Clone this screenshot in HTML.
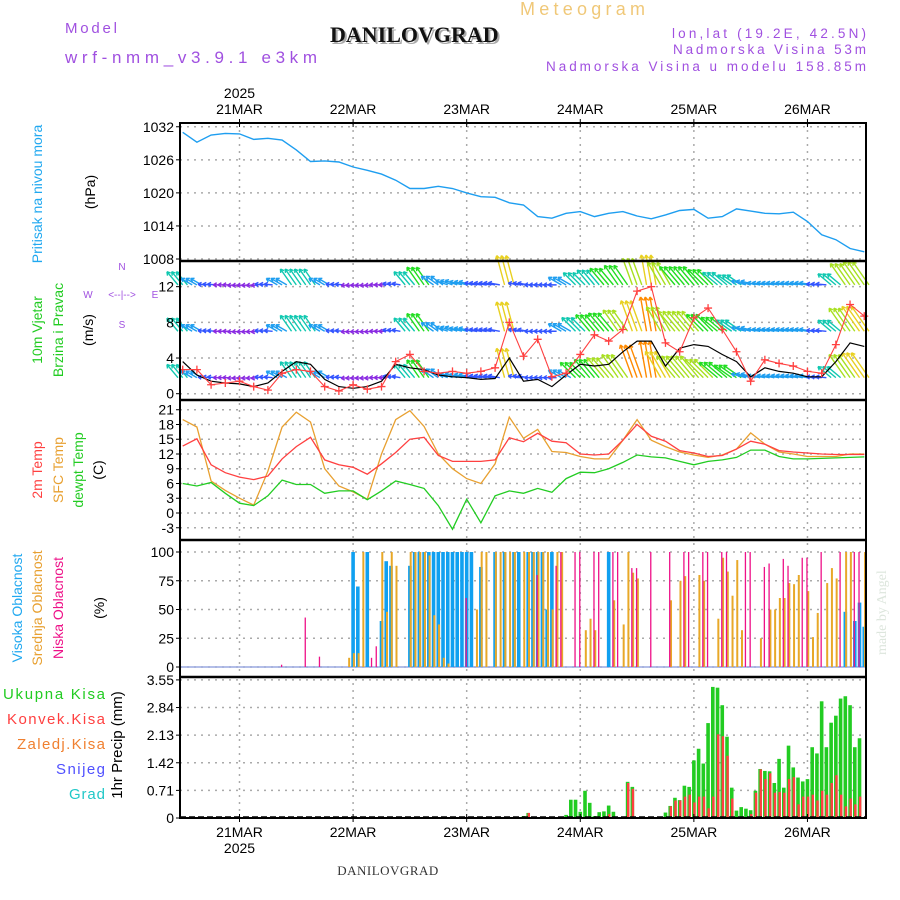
<!DOCTYPE html>
<html><head><meta charset="utf-8"><style>
body{margin:0;background:#fff;}
svg{display:block;font-family:"Liberation Sans",sans-serif;}
</style></head><body>
<svg id="chart" width="900" height="900" viewBox="0 0 900 900" xmlns="http://www.w3.org/2000/svg">
<rect width="900" height="900" fill="#fff"/>
<text x="520" y="15" font-size="18" fill="#f0c878" textLength="125" lengthAdjust="spacing">Meteogram</text>
<text x="65" y="33" font-size="15" fill="#a050e0" textLength="52" lengthAdjust="spacing">Model</text>
<text x="332" y="44" font-size="22" font-weight="bold" fill="#aaa" font-family="Liberation Serif,serif">DANILOVGRAD</text>
<text x="330" y="42" font-size="22" font-weight="bold" fill="#111" font-family="Liberation Serif,serif">DANILOVGRAD</text>
<text x="65" y="63" font-size="17" fill="#a050e0" textLength="252" lengthAdjust="spacing">wrf-nmm_v3.9.1 e3km</text>
<text x="672" y="38" font-size="13.5" fill="#a050e0" textLength="194" lengthAdjust="spacing">lon,lat (19.2E, 42.5N)</text>
<text x="673" y="54" font-size="13.5" fill="#a050e0" textLength="193" lengthAdjust="spacing">Nadmorska Visina 53m</text>
<text x="546" y="71" font-size="13.5" fill="#a050e0" textLength="320" lengthAdjust="spacing">Nadmorska Visina u modelu 158.85m</text>
<text transform="translate(886,655) rotate(-90)" font-size="14" fill="#dde6dd" font-family="Liberation Serif,serif">made by Angel</text>
<text x="388" y="875" font-size="13" fill="#333" text-anchor="middle" font-family="Liberation Serif,serif" letter-spacing="0.5">DANILOVGRAD</text>
<g id="grid"></g>
<g id="marks"></g>
<g id="frame"></g>
<g id="labels"></g>
</svg>
<script>
// ---------- data ----------
const days = ["21MAR","22MAR","23MAR","24MAR","25MAR","26MAR"];
const dayHours = [0,24,48,72,96,120];
const hours3 = [-12,-9,-6,-3,0,3,6,9,12,15,18,21,24,27,30,33,36,39,42,45,48,51,54,57,60,63,66,69,72,75,78,81,84,87,90,93,96,99,102,105,108,111,114,117,120,123,126,129,132];
const pressure = [1031.0,1029.2,1030.5,1030.8,1030.7,1029.7,1029.9,1029.6,1027.8,1025.7,1025.8,1025.6,1024.7,1024.1,1023.4,1022.3,1020.8,1020.8,1021.2,1020.8,1020.0,1019.3,1019.2,1018.2,1017.8,1015.7,1015.4,1016.3,1016.6,1015.7,1016.3,1016.6,1015.8,1015.3,1016.0,1016.8,1017.0,1015.4,1015.7,1017.1,1016.7,1016.3,1016.2,1016.5,1014.8,1012.4,1011.5,1009.9,1009.3];
const pressureTicks = [1008,1014,1020,1026,1032];
const temp2m = [13.6,15.1,9.8,8.2,7.3,6.8,7.5,11.0,13.5,15.4,10.8,9.8,9.3,7.9,10.0,12.3,15.0,15.4,11.7,10.5,10.5,10.5,10.8,15.3,14.5,16.2,14.6,14.3,12.0,11.8,12.0,14.8,18.0,15.6,14.6,12.7,12.2,11.5,11.7,13.0,14.6,14.0,12.7,12.4,12.2,12.0,11.9,11.9,11.9];
const tempSfc = [19.0,17.5,6.5,4.6,3.0,1.6,8.5,17.5,20.5,18.5,9.0,5.5,4.3,2.8,12.0,19.0,20.8,17.6,12.0,9.0,7.0,6.0,10.0,19.5,15.2,17.0,12.5,12.3,11.5,11.0,11.0,14.8,19.0,14.8,13.5,12.4,11.8,11.3,11.8,13.0,16.3,14.0,12.4,12.0,11.5,11.5,11.5,12.0,12.0];
const tempDew = [6.0,5.5,6.2,4.0,2.0,1.5,3.5,6.7,5.8,5.8,4.0,4.5,4.5,2.7,4.5,6.5,5.8,5.0,1.5,-3.3,2.8,-2.0,3.5,4.5,4.0,5.0,4.2,7.0,8.3,8.2,9.0,10.3,11.8,11.4,11.2,10.5,9.8,10.5,10.8,11.3,12.8,12.8,11.5,11.0,11.0,11.1,11.2,11.3,11.4];
const tempTicks = [-3,0,3,6,9,12,15,18,21];
const wind10 = [3.6,2.1,1.4,1.2,1.1,0.8,1.2,2.5,3.6,3.3,1.6,0.8,0.6,0.8,1.4,3.3,2.9,2.7,2.1,1.9,1.8,1.6,1.7,4.0,1.4,1.6,0.8,2.1,3.3,3.1,3.3,4.7,5.9,5.9,3.1,5.1,5.5,5.3,4.4,3.6,1.9,2.9,2.5,2.3,1.9,1.9,3.6,5.7,5.3];
const gust = [2.7,2.7,1.0,1.2,1.4,0.8,0.4,2.3,2.7,2.5,0.8,0.3,1.0,0.5,0.8,3.6,4.4,2.5,2.3,2.5,2.3,2.5,2.9,8.0,4.2,6.1,1.9,2.3,4.4,6.6,5.9,7.2,11.5,12.0,5.7,4.7,8.5,9.6,7.2,4.7,1.4,3.8,3.4,3.1,2.5,2.3,5.5,10.0,8.7];
const arrowLow = [6,4,2,1.5,1.5,1.5,2,4,7,7,4,2,1.5,1.5,1.5,2,6,8,5,4,4,3.5,3.5,12,3,2,2,5,8,9,10,11,14,15,12,11,11,10,9,8,5,4,4,4,4,3,6,11,12];
const arrowMid = [6,4,2,1.5,1.5,1.5,2,4,7,7,4,2,1.5,1.5,1.5,2,6,8,5,4,4,3.5,3.5,12,3,2,2,5,7,8,9,10,13,14,11,10,10,9,8,7,5,4,4,4,4,3,6,11,12];
const arrowTop = [6,4,2,1.5,1.5,1.5,2,4,7,7,4,2,1.5,1.5,1.5,2,6,8,5,4,4,3.5,3.5,12,3,2,2,5,6,7,8,9,11,12,10,9,9,8,7,6,5,4,4,4,4,3,6,10,11];
const windDir = [130,150,175,180,185,185,175,150,125,125,150,175,185,185,180,170,130,125,145,160,165,170,170,105,170,180,180,150,135,130,130,125,110,100,120,130,130,135,140,145,165,170,170,170,170,175,140,125,125];
const windTicks = [0,4,8,12];
const highHours = [24,25,27,30,31,32,36,37,38,39,40,41,42,43,44,45,46,47,48,49,51,54,56,58,59,61,62,63,64,65,66,78,128,130,131,132];
const highVals = [100,70,100,40,92,88,88,100,100,100,100,100,100,100,100,100,100,100,100,100,87,100,100,100,100,100,100,100,100,50,100,100,48,40,56,35];
const midHours = [23,24,25,26,30,31,32,33,36,37,38,39,40,41,42,43,44,50,51,52,54,55,56,57,58,60,61,62,63,64,65,66,67,68,73,74,75,79,81,82,83,84,91,93,94,97,98,101,102,103,104,105,106,110,112,113,114,115,116,117,118,120,121,122,124,125,126,128,129,132];
const midVals = [8,12,12,100,100,48,100,88,100,100,100,100,97,45,37,8,3,50,100,100,100,100,100,100,100,100,100,100,100,100,100,50,100,100,32,42,32,58,37,100,82,77,58,75,79,80,75,42,95,83,62,93,32,25,50,50,60,60,73,72,80,66,26,47,73,86,77,100,100,100];
const lowHours = [9,14,17,28,29,48,63,67,68,71,72,75,76,79,80,83,84,87,91,94,95,98,99,102,103,107,108,111,112,115,116,119,120,123,127,130,131];
const lowVals = [2,43,9,8,18,60,80,88,100,100,100,100,100,100,100,86,86,100,100,100,100,100,100,100,100,100,100,87,90,94,88,95,95,100,100,100,100];
const cloudTicks = [0,25,50,75,100];
const precipHours = [60,61,69,70,71,72,73,74,75,76,77,78,79,81,82,83,87,90,91,92,93,94,95,96,97,98,99,100,101,102,103,104,105,106,107,108,109,110,111,112,113,114,115,116,117,118,119,120,121,122,123,124,125,126,127,128,129,130,131];
const precipTotal = [0.05,0.13,0.08,0.47,0.47,0.16,0.7,0.39,0.05,0.15,0.17,0.32,0.16,0.03,0.93,0.8,0.03,0.14,0.31,0.52,0.46,0.83,0.8,1.48,1.78,1.4,2.44,3.37,3.35,2.9,2.09,0.78,0.19,0.28,0.24,0.2,0.7,1.26,1.21,1.2,0.9,1.52,0.78,1.86,1.3,1.04,0.94,1.0,1.82,1.66,3.0,1.82,2.45,2.63,3.07,3.13,2.9,1.82,2.05];
const precipConv = [0,0.13,0,0,0,0,0,0,0,0,0,0.1,0,0,0.9,0.75,0,0,0.3,0.45,0.45,0.55,0.6,0.4,0.55,0.55,0.25,0.55,2.15,2.1,1.6,0.5,0,0,0,0.1,0.65,1.25,1.0,1.15,0.65,0.67,0.65,1.0,1.05,0.35,0.55,0.55,0.6,0.45,0.7,0.6,0.9,1.1,0.6,0.3,0.5,0.35,0.55];
const precipTicks = [0,0.71,1.42,2.13,2.84,3.55];
const precipTickLabels = ["0","0.71","1.42","2.13","2.84","3.55"];

// ---------- scales ----------
const L=180,R=866;
const P=[123,261,400,540,677,818];
const X=h=>239.5+h*4.733;
const YP=p=>259-(p-1008)*5.51;
const YW=v=>393.7-v*8.92;
const YT=t=>513-t*4.917;
const YC=c=>667-c*1.15;
const YR=r=>818-r*38.9;
const NS="http://www.w3.org/2000/svg";
function mk(parent,tag,attrs){const e=document.createElementNS(NS,tag);for(const k in attrs)e.setAttribute(k,attrs[k]);document.getElementById(parent).appendChild(e);return e;}

// grid
for(const h of dayHours){
  const g=mk('grid','line',{x1:X(h),x2:X(h),y1:P[0],y2:P[5],stroke:'#aaa','stroke-width':1.5,'stroke-dasharray':'2,5'});
  
  
}
function hgrid(ys){for(const y of ys){const g=mk('grid','line',{x1:L,x2:R,y1:y,y2:y,stroke:'#aaa','stroke-width':1.5,'stroke-dasharray':'2,5'});
  
  }}
hgrid(pressureTicks.map(YP));hgrid(windTicks.map(YW));hgrid(tempTicks.map(YT));hgrid(cloudTicks.map(YC));hgrid(precipTicks.map(YR));

// tick labels
function ylab(vals,fn,texts,name){vals.forEach((v,i)=>{const t=mk('labels','text',{x:L-6,y:fn(v)+5,'font-size':14,'text-anchor':'end',fill:'#000'});t.textContent=texts?texts[i]:String(v);
  
  
  const k=mk('labels','line',{x1:L-4,x2:L,y1:fn(v),y2:fn(v),stroke:'#000'});
  
  });}
ylab(pressureTicks,YP,null,'pressure-tick-label');
ylab(windTicks,YW,null,'wind-tick-label');
ylab(tempTicks,YT,null,'temp-tick-label');
ylab(cloudTicks,YC,null,'cloud-tick-label');
ylab(precipTicks,YR,precipTickLabels,'precip-tick-label');
days.forEach((d,i)=>{
  const t1=mk('labels','text',{x:X(dayHours[i]),y:114,'font-size':14,'text-anchor':'middle'});t1.textContent=d;
  
  
  const t2=mk('labels','text',{x:X(dayHours[i]),y:837,'font-size':14,'text-anchor':'middle'});t2.textContent=d;
  
  
  for(const y of [P[0],P[5]]){const k=mk('labels','line',{x1:X(dayHours[i]),x2:X(dayHours[i]),y1:y-4,y2:y+4,stroke:'#000'});
    
    }
});
let yr=mk('labels','text',{x:X(0),y:98,'font-size':14,'text-anchor':'middle'});yr.textContent='2025';


yr=mk('labels','text',{x:X(0),y:853,'font-size':14,'text-anchor':'middle'});yr.textContent='2025';



// side labels
function side(x,yc,txt,col,name,fs){const t=mk('labels','text',{transform:`translate(${x},${yc}) rotate(-90)`,'font-size':fs||14,'text-anchor':'middle',fill:col});t.textContent=txt;
  
  }
side(42,194,'Pritisak na nivou mora','#20a8f0','pressure-axis-title');
side(95,192,'(hPa)','#000','pressure-unit');
side(42,330,'10m Vjetar','#22cc22','wind-axis-title');
side(63,330,'Brzina i Pravac','#22cc22','wind-axis-subtitle');
side(93,330,'(m/s)','#000','wind-unit');
side(42,470,'2m Temp','#ff4040','temp2m-axis-title');
side(63,470,'SFC Temp','#e8a030','sfc-temp-axis-title');
side(83,470,'dewpt Temp','#22cc22','dewpt-axis-title');
side(103,470,'(C)','#000','temp-unit');
side(22,608,'Visoka Oblacnost','#20a8f0','high-cloud-axis-title');
side(42,608,'Srednja Oblacnost','#e8a030','mid-cloud-axis-title');
side(63,608,'Niska Oblacnost','#ee1188','low-cloud-axis-title');
side(104,608,'(%)','#000','cloud-unit');
side(122,745,'1hr Precip (mm)','#000','precip-axis-title',15);
[['Ukupna Kisa','#22cc22',699,3,102],['Konvek.Kisa','#ff4040',724,7,98],['Zaledj.Kisa','#f08030',749,17,88],['Snijeg','#5050ff',774,56,49],['Grad','#20c8c8',799,69,36]].forEach(a=>{
  const t=mk('labels','text',{x:a[3],y:a[2],'font-size':15,fill:a[1],textLength:a[4],lengthAdjust:'spacing'});t.textContent=a[0];
  
  
});
// compass
[['N',122,270],['W',88,298],['<--|-->',122,298],['E',155,298],['S',122,328]].forEach(a=>{
  const t=mk('labels','text',{x:a[1],y:a[2],'font-size':10,'text-anchor':'middle',fill:'#a050e0'});t.textContent=a[0];
  
  
});

// series helpers
function line(xs,ys,col,name,w){const d=xs.map((x,i)=>(i?'L':'M')+X(x).toFixed(1)+','+ys[i].toFixed(1)).join('');
  const p=mk('marks','path',{d:d,fill:'none',stroke:col,'stroke-width':w||1.3});
  
  }

// pressure
line(hours3,pressure.map(YP),'#1e9ef0','pressure-line',1.4);

// wind arrows (three arrows drawn per 3-hour value)
function spdColor(s){return s<2?'#8a2be2':s<4?'#3355ff':s<6?'#1e9ef0':s<8?'#10c8b0':s<10?'#22dd22':s<12?'#a8e020':s<14?'#e8d020':'#ff8a00';}
function arrows(arr,base,name){arr.forEach((s,i)=>{
  const a=windDir[i]*Math.PI/180,len=4+s*2.2;
  const col=spdColor(s);
  for(const off of [-1,0,1]){
    const x0=X(hours3[i]+off),y0=base,x1=x0+Math.cos(a)*len,y1=y0-Math.sin(a)*len;
    const g=mk('marks','path',{d:`M${x0},${y0}L${x1},${y1}M${x1},${y1}l${(Math.cos(a+2.6)*4).toFixed(1)},${(-Math.sin(a+2.6)*4).toFixed(1)}M${x1},${y1}l${(Math.cos(a-2.6)*4).toFixed(1)},${(-Math.sin(a-2.6)*4).toFixed(1)}`,stroke:col,'stroke-width':1.4,fill:'none'});
    
    
  }
});}
arrows(arrowTop,YW(12.2),'wind-arrow-top');
arrows(arrowMid,YW(7),'wind-arrow-mid');
arrows(arrowLow,YW(1.8),'wind-arrow-10m');
line(hours3,wind10.map(YW),'#000','wind-speed-line',1.2);
line(hours3,gust.map(v=>Math.max(YW(v),262)),'#ff4040','wind-gust-line',1.1);
gust.forEach((v,i)=>{const x=X(hours3[i]),y=Math.max(YW(v),262);
  const m=mk('marks','path',{d:`M${x-4},${y}h8M${x},${y-4}v8`,stroke:'#ff4040','stroke-width':1.3});
  
  });

// temperature
line(hours3,tempSfc.map(YT),'#e8a030','sfc-temp-line',1.3);
line(hours3,temp2m.map(YT),'#ff4040','temp-2m-line',1.3);
line(hours3,tempDew.map(YT),'#22cc22','dewpoint-line',1.3);

// clouds
const cb=mk('marks','line',{x1:L,x2:R,y1:YC(0),y2:YC(0),stroke:'#9aa8e0','stroke-width':1.5});


function cbars(hs,vs,col,w,off,name){hs.forEach((h,i)=>{const y=YC(vs[i]);
  const r=mk('marks','rect',{x:X(h)-w/2+off,y:y,width:w,height:YC(0)-y,fill:col});
  
  });}
cbars(highHours,highVals,'#10a0f0',3.6,0,'high-cloud-bar');
cbars(midHours,midVals,'#e8a828',2,0.8,'mid-cloud-bar');
cbars(lowHours,lowVals,'#ee1188',1.3,-0.5,'low-cloud-bar');

// precipitation
precipHours.forEach((h,i)=>{const y=YR(precipTotal[i]);
  const r=mk('marks','rect',{x:X(h)-1.8,y:y,width:3.6,height:YR(0)-y,fill:'#22cc22'});
  
  
  if(precipConv[i]>0){const yc=YR(precipConv[i]);
    const c=mk('marks','rect',{x:X(h)-0.6,y:yc,width:2.4,height:YR(0)-yc,fill:'#ff4040'});
    
    }
});
const pb=mk('marks','line',{x1:L,x2:R,y1:YR(0)-1,y2:YR(0)-1,stroke:'#000','stroke-width':1.5,'stroke-dasharray':'6,3'});



// frames
const fr=mk('frame','rect',{x:L,y:P[0],width:R-L,height:P[5]-P[0],fill:'none',stroke:'#000','stroke-width':2});


for(let i=1;i<5;i++){const s=mk('frame','line',{x1:L,x2:R,y1:P[i],y2:P[i],stroke:'#000','stroke-width':2.5});
  
  }
</script>
</body></html>
